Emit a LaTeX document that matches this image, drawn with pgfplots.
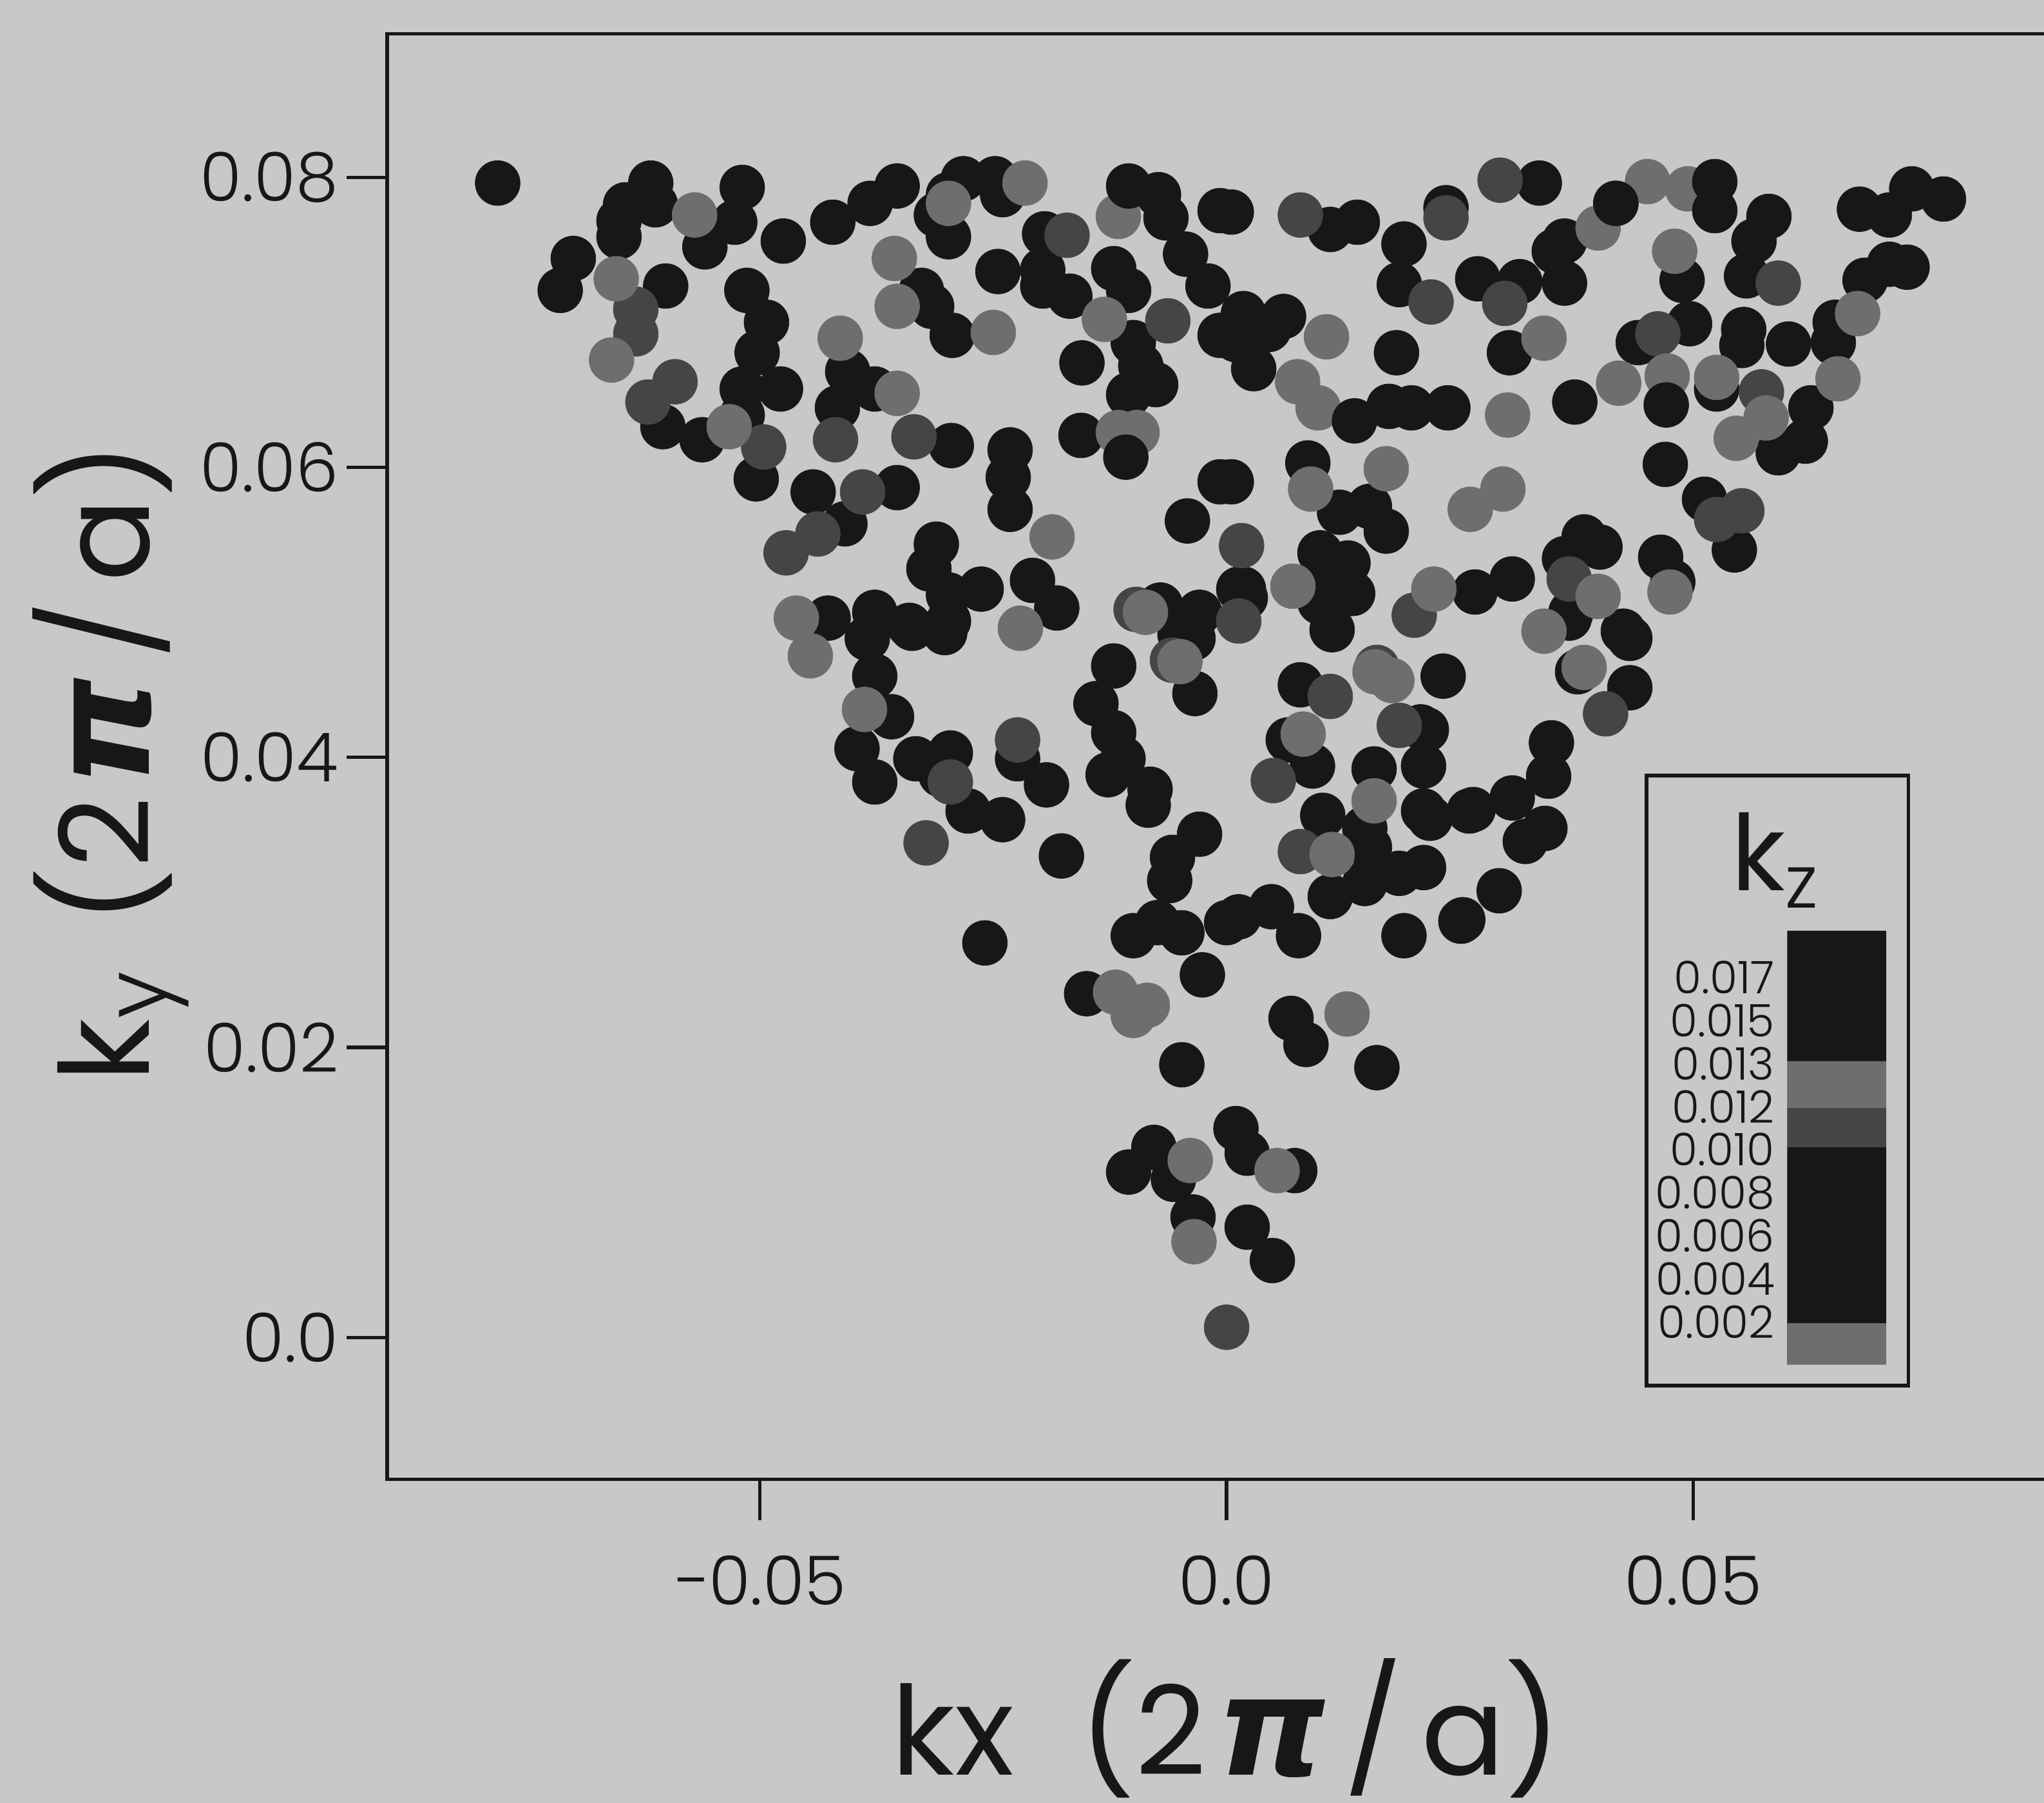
\documentclass[border=0pt]{standalone}
\usepackage{fontspec}
\usepackage{pgfplots}
\pgfplotsset{compat=1.18,scaled ticks=false}
\setmainfont{Poppins}[UprightFont=* Light]
\newfontfamily\reg{Poppins}
\newfontfamily\grk{DejaVu Sans}
\definecolor{bgc}{gray}{0.785}
\definecolor{inkc}{gray}{0.09}
\definecolor{midc}{gray}{0.43}
\definecolor{drkc}{gray}{0.27}
\newcommand{\pisym}{{\fontsize{30}{34}\selectfont\grk\bfseries\itshape π}}
\newcommand{\unitlabel}{(2\hspace{0.8mm}\pisym\hspace{1.4mm}/\hspace{1.4mm}a)}
\begin{document}
\begin{tikzpicture}[x=1mm,y=1mm]
\path[use as bounding box,fill=bgc] (-29.7mm,-24.8mm) rectangle (127.1mm,113.5mm);
\begin{axis}[
  at={(0,0)},anchor=south west,scale only axis,
  width=130.3mm,height=110.9mm,
  xmin=-0.08994,xmax=0.09204,ymin=-0.0098,ymax=0.08989,
  xtick={-0.05,0,0.05},xticklabels={−0.05,0.0,0.05},
  ytick={0,0.02,0.04,0.06,0.08},yticklabels={0.0,0.02,0.04,0.06,0.08},
  tick align=outside,major tick length=3.1mm,
  xtick pos=lower,ytick pos=left,
  axis line style={line width=0.75pt,inkc},
  tick style={line width=0.75pt,inkc},
  tick label style={font=\fontsize{14.8}{17}\selectfont,text=inkc},
  xticklabel style={yshift=-1.5mm},
  yticklabel style={xshift=0.6mm},
  xlabel={kx\hspace{5mm}\unitlabel},
  ylabel={k$_{\mathrm{y}}$\hspace{3.5mm}\unitlabel},
  every axis x label/.style={at={(axis description cs:0.494,-0.172)},anchor=center,font=\reg\fontsize{27}{32}\selectfont,text=inkc},
  every axis y label/.style={at={(axis description cs:-0.1627,0.496)},anchor=center,rotate=90,font=\reg\fontsize{27}{32}\selectfont,text=inkc},
  clip=false,
]
% main dark points
\addplot[only marks,mark=*,mark size=4.9pt,inkc,mark options={draw=inkc,fill=inkc,line width=0.1pt}] coordinates {
(-0.0781,0.0796)(-0.0617,0.0796)(-0.0612,0.0781)(-0.0644,0.0781)(-0.0651,0.0770)(-0.0651,0.0759)(-0.0700,0.0744)(-0.0714,0.0722)(-0.0601,0.0725)(-0.0519,0.0793)
(-0.0527,0.0769)(-0.0559,0.0752)(-0.0475,0.0756)(-0.0422,0.0769)(-0.0382,0.0782)(-0.0353,0.0794)(-0.0282,0.0799)(-0.0248,0.0799)(-0.0298,0.0788)(-0.0240,0.0788)
(-0.0298,0.0759)(-0.0311,0.0774)(-0.0514,0.0722)(-0.0493,0.0700)(-0.0503,0.0679)(-0.0519,0.0654)(-0.0478,0.0654)(-0.0604,0.0628)(-0.0562,0.0619)(-0.0519,0.0636)
(-0.0406,0.0666)(-0.0377,0.0654)(-0.0417,0.0641)(-0.0327,0.0722)(-0.0316,0.0711)(-0.0294,0.0691)(-0.0245,0.0735)(-0.0195,0.0761)(-0.0197,0.0736)(-0.0197,0.0725)
(-0.0168,0.0718)(-0.0121,0.0737)(-0.0105,0.0722)(-0.0073,0.0788)(-0.0065,0.0772)(-0.0044,0.0747)(-0.0020,0.0725)(-0.0007,0.0777)(-0.0155,0.0672)(-0.0100,0.0686)
(-0.0092,0.0670)(-0.0076,0.0657)(-0.0105,0.0650)(-0.0156,0.0622)(-0.0232,0.0612)(-0.0234,0.0593)(-0.0232,0.0571)(-0.0295,0.0615)(-0.0042,0.0563)(-0.0504,0.0592)
(-0.0443,0.0583)(-0.0353,0.0586)(-0.0409,0.0561)(-0.0311,0.0547)(-0.0319,0.0530)(-0.0263,0.0516)(-0.0298,0.0512)(-0.0208,0.0522)(-0.0182,0.0503)(-0.0427,0.0496)
(-0.0377,0.0500)(-0.0340,0.0491)(-0.0298,0.0494)(-0.0071,0.0505)(-0.0029,0.0500)(-0.0007,0.0691)(-0.0007,0.0590)
(-0.0385,0.0482)(-0.0337,0.0489)(-0.0302,0.0486)(-0.0050,0.0485)(-0.0036,0.0482)(0.0020,0.0510)(0.0013,0.0516)
(0.0005,0.0776)(0.0111,0.0764)(0.0140,0.0769)(0.0190,0.0754)(0.0185,0.0726)(0.0235,0.0779)(0.0335,0.0796)(0.0269,0.0730)(0.0314,0.0728)(0.0362,0.0756)
(0.0362,0.0727)(0.0351,0.0749)(0.0417,0.0782)(0.0581,0.0773)(0.0565,0.0756)(0.0557,0.0732)(0.0678,0.0778)(0.0710,0.0774)(0.0734,0.0792)(0.0768,0.0785)
(0.0684,0.0729)(0.0710,0.0740)(0.0729,0.0738)(0.0488,0.0729)(0.0496,0.0699)(0.0441,0.0686)(0.0554,0.0695)(0.0552,0.0684)(0.0602,0.0685)(0.0650,0.0686)
(0.0652,0.0700)(0.0182,0.0679)(0.0018,0.0706)(0.0061,0.0704)(0.0029,0.0668)(0.0010,0.0688)(0.0045,0.0695)(0.0303,0.0679)(0.0174,0.0642)(0.0198,0.0641)
(0.0237,0.0641)(0.0373,0.0645)(0.0525,0.0654)(0.0626,0.0641)(0.0620,0.0618)(0.0591,0.0610)(0.0470,0.0602)(0.0512,0.0578)(0.0544,0.0543)(0.0087,0.0603)
(0.0005,0.0590)(0.0121,0.0569)(0.0153,0.0573)(0.0171,0.0556)(0.0100,0.0541)(0.0130,0.0534)(0.0018,0.0516)(0.0108,0.0516)(0.0135,0.0513)(0.0100,0.0507)
(0.0113,0.0488)(0.0266,0.0514)(0.0306,0.0523)(0.0383,0.0552)(0.0400,0.0545)(0.0362,0.0537)(0.0465,0.0538)(0.0478,0.0521)(0.0367,0.0496)(0.0425,0.0487)(0.0369,0.0500)
(-0.0377,0.0456)(-0.0359,0.0428)(-0.0396,0.0406)(-0.0377,0.0383)(-0.0333,0.0399)(-0.0296,0.0403)(-0.0306,0.0388)(-0.0277,0.0363)(-0.0240,0.0357)(-0.0224,0.0399)
(-0.0193,0.0381)(-0.0121,0.0463)(-0.0140,0.0437)(-0.0121,0.0417)(-0.0127,0.0388)(-0.0111,0.0399)(-0.0084,0.0367)(-0.0082,0.0378)(-0.0034,0.0444)(-0.0177,0.0332)
(-0.0029,0.0347)(-0.0058,0.0331)(-0.0061,0.0315)(-0.0100,0.0277)(-0.0074,0.0286)(-0.0048,0.0279)(-0.0026,0.0250)(0.0000,0.0286)(0.0013,0.0290)(0.0048,0.0297)
(0.0077,0.0277)(-0.0259,0.0272)(-0.0150,0.0237)(-0.0048,0.0188)(0.0069,0.0220)(0.0085,0.0202)(0.0161,0.0186)(0.0251,0.0287)(0.0190,0.0277)(0.0111,0.0304)
(0.0148,0.0313)(0.0185,0.0320)(0.0211,0.0324)(0.0153,0.0338)(0.0148,0.0351)(0.0103,0.0360)(0.0158,0.0392)(0.0092,0.0394)(0.0066,0.0412)(0.0211,0.0363)
(0.0211,0.0394)(0.0214,0.0419)(0.0264,0.0364)(0.0079,0.0450)(0.0232,0.0456)(0.0432,0.0482)(0.0432,0.0448)(0.0376,0.0459)(0.0348,0.0410)(0.0345,0.0387)
(0.0306,0.0372)(0.0341,0.0351)(0.0320,0.0342)(0.0292,0.0308)(0.0253,0.0288)(0.0260,0.0363)(0.0218,0.0358)(0.0208,0.0421)(-0.0105,0.0114)(-0.0078,0.0131)
(-0.0057,0.0109)(0.0010,0.0144)(0.0022,0.0127)(0.0073,0.0115)(-0.0036,0.0083)(0.0022,0.0076)(0.0049,0.0053)
};
% darker textured points
\addplot[only marks,mark=*,mark size=4.9pt,drkc,mark options={draw=drkc,fill=drkc,line width=0.1pt}] coordinates {
(-0.0633,0.0692)(-0.0633,0.0709)(-0.0591,0.0659)(-0.0620,0.0645)(-0.0496,0.0614)(-0.0419,0.0619)(-0.0390,0.0583)(-0.0438,0.0554)(-0.0472,0.0541)(-0.0171,0.0760)
(-0.0063,0.0701)(-0.0335,0.0621)(-0.0097,0.0502)(0.0293,0.0798)(0.0219,0.0714)(0.0298,0.0713)(0.0591,0.0727)(0.0462,0.0692)(0.0573,0.0652)(0.0016,0.0546)
(0.0013,0.0494)(0.0201,0.0498)(0.0367,0.0523)(0.0079,0.0774)(0.0235,0.0772)(0.0552,0.0570)(0.0525,0.0564)
(-0.0058,0.0467)(0.0161,0.0462)(0.0111,0.0442)(0.0050,0.0384)(0.0079,0.0335)(-0.0322,0.0341)(-0.0224,0.0412)(0.0185,0.0422)(-0.0296,0.0383)(0.0406,0.0430)(0.0000,0.0007)
};
% mid grey textured points
\addplot[only marks,mark=*,mark size=4.9pt,midc,mark options={draw=midc,fill=midc,line width=0.1pt}] coordinates {
(-0.0216,0.0796)(-0.0654,0.0730)(-0.0659,0.0674)(-0.0356,0.0744)(-0.0353,0.0711)(-0.0250,0.0693)(-0.0414,0.0689)(-0.0116,0.0773)(-0.0131,0.0702)(-0.0353,0.0651)
(-0.0116,0.0624)(-0.0096,0.0624)(-0.0187,0.0552)(-0.0461,0.0496)(-0.0221,0.0489)(-0.0298,0.0782)(-0.0570,0.0774)(-0.0533,0.0628)
(0.0451,0.0797)(0.0494,0.0792)(0.0398,0.0765)(0.0480,0.0749)(0.0107,0.0690)(0.0340,0.0689)(0.0676,0.0706)(0.0076,0.0659)(0.0098,0.0641)(0.0301,0.0636)
(0.0420,0.0658)(0.0472,0.0663)(0.0525,0.0662)(0.0655,0.0661)(0.0578,0.0634)(0.0546,0.0620)(0.0090,0.0585)(0.0171,0.0599)(0.0296,0.0585)(0.0261,0.0571)
(0.0398,0.0511)(0.0475,0.0514)(0.0222,0.0516)(0.0071,0.0518)(0.0340,0.0487)
(-0.0446,0.0470)(-0.0388,0.0433)(-0.0119,0.0238)(-0.0085,0.0229)(-0.0100,0.0222)(0.0129,0.0223)(0.0177,0.0453)(0.0082,0.0416)(0.0158,0.0370)(0.0113,0.0333)
(0.0383,0.0462)(0.0159,0.0459)(-0.0087,0.0500)(-0.0050,0.0466)(-0.0039,0.0122)(0.0054,0.0115)(-0.0035,0.0066)
};
% dark points lying on top of grey ones
\addplot[only marks,mark=*,mark size=4.9pt,inkc,mark options={draw=inkc,fill=inkc,line width=0.1pt}] coordinates {
(0.0471,0.0643)(0.0523,0.0797)(0.0523,0.0777)(0.0137,0.0632)(-0.0108,0.0607)(-0.0105,0.0794)(0.0417,0.0782)
};
\end{axis}
\draw[line width=0.75pt,inkc] (96.6mm,7.2mm) rectangle (116.7mm,54mm);
\node[text=inkc,font=\reg\fontsize{23}{27}\selectfont] at (106.5mm,47.5mm) {k$_{\mathrm{z}}$};
\begin{axis}[
  at={(107.4mm,8.8mm)},anchor=south west,scale only axis,
  width=7.6mm,height=33.3mm,
  xmin=0,xmax=1,ymin=0.00015,ymax=0.01882,
  axis line style={draw=none},xtick=\empty,
  ytick={0.002,0.00385,0.0057,0.00755,0.0094,0.01125,0.0131,0.01495,0.0168},
  yticklabels={0.002,0.004,0.006,0.008,0.010,0.012,0.013,0.015,0.017},
  major tick length=0pt,ytick pos=left,
  yticklabel style={font=\fontsize{9.8}{11}\selectfont,text=inkc,inner sep=0pt,xshift=-0.9mm},
]
\addplot[draw=none,fill=midc] coordinates {(0,0.00015)(1,0.00015)(1,0.00194)(0,0.00194)} \closedcycle;
\addplot[draw=none,fill=inkc] coordinates {(0,0.00194)(1,0.00194)(1,0.00951)(0,0.00951)} \closedcycle;
\addplot[draw=none,fill=drkc] coordinates {(0,0.00951)(1,0.00951)(1,0.0112)(0,0.0112)} \closedcycle;
\addplot[draw=none,fill=midc] coordinates {(0,0.0112)(1,0.0112)(1,0.0132)(0,0.0132)} \closedcycle;
\addplot[draw=none,fill=inkc] coordinates {(0,0.0132)(1,0.0132)(1,0.01882)(0,0.01882)} \closedcycle;
\end{axis}
\end{tikzpicture}
\end{document}
